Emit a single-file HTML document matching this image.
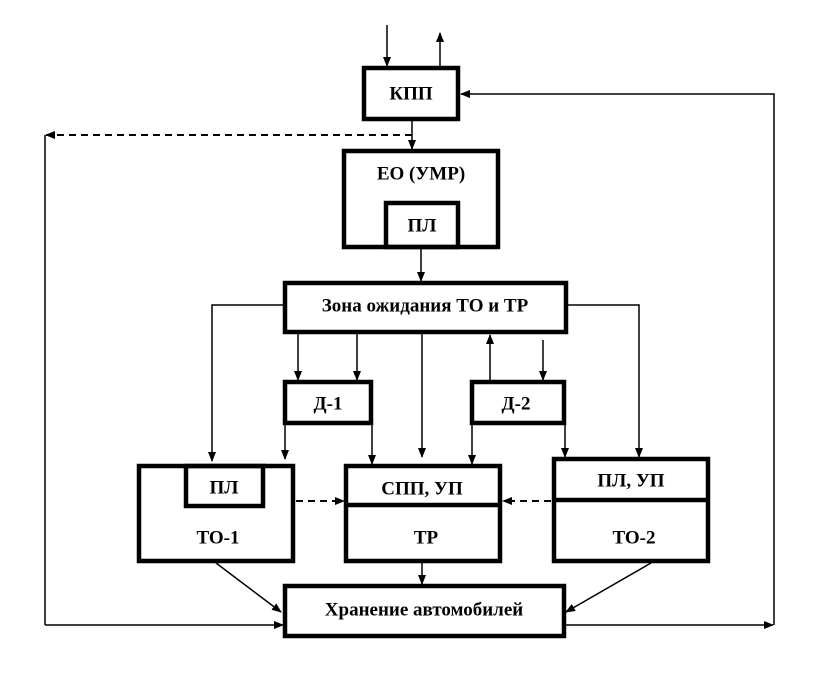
<!DOCTYPE html>
<html><head><meta charset="utf-8"><style>
html,body{margin:0;padding:0;background:#fff;}
svg{display:block}
text{font-family:"Liberation Serif",serif;font-weight:bold;font-size:19px;text-anchor:middle;dominant-baseline:central;fill:#000}
</style></head><body>
<svg width="818" height="673" viewBox="0 0 818 673" xmlns="http://www.w3.org/2000/svg">
<defs>
<marker id="a" markerWidth="10" markerHeight="10" refX="9" refY="5" orient="auto" markerUnits="userSpaceOnUse">
<path d="M0,1 L10,5 L0,9 Z" fill="#000"/></marker>
</defs>
<g fill="none" stroke="#000" stroke-width="1.5">
<line x1="387" y1="25" x2="387" y2="66" marker-end="url(#a)"/>
<line x1="440" y1="67" x2="440" y2="33" marker-end="url(#a)"/>
<polyline points="774,625 774,94 461,94" marker-end="url(#a)"/>
<line x1="412" y1="120" x2="412" y2="149" marker-end="url(#a)"/>
<line x1="412" y1="135" x2="46" y2="135" stroke-dasharray="7,5" stroke-width="2" marker-end="url(#a)"/>
<line x1="45" y1="135" x2="45" y2="625"/>
<line x1="421" y1="248" x2="421" y2="281" marker-end="url(#a)"/>
<polyline points="284,305 212,305 212,461" marker-end="url(#a)"/>
<polyline points="567,305 639,305 639,457" marker-end="url(#a)"/>
<line x1="298" y1="334" x2="298" y2="380" marker-end="url(#a)"/>
<line x1="357" y1="334" x2="357" y2="380" marker-end="url(#a)"/>
<line x1="422" y1="334" x2="422" y2="457" marker-end="url(#a)"/>
<line x1="490" y1="380" x2="490" y2="335" marker-end="url(#a)"/>
<line x1="543" y1="340" x2="543" y2="380" marker-end="url(#a)"/>
<line x1="285" y1="424" x2="285" y2="459" marker-end="url(#a)"/>
<line x1="372" y1="424" x2="372" y2="464" marker-end="url(#a)"/>
<line x1="472" y1="424" x2="472" y2="464" marker-end="url(#a)"/>
<line x1="565" y1="424" x2="565" y2="457" marker-end="url(#a)"/>
<line x1="296" y1="501" x2="344" y2="501" stroke-dasharray="7,5" stroke-width="2" marker-end="url(#a)"/>
<line x1="551" y1="501" x2="503" y2="501" stroke-dasharray="7,5" stroke-width="2" marker-end="url(#a)"/>
<line x1="216" y1="563" x2="281" y2="612" marker-end="url(#a)"/>
<line x1="422" y1="563" x2="422" y2="584" marker-end="url(#a)"/>
<line x1="651" y1="563" x2="566" y2="612" marker-end="url(#a)"/>
<line x1="45" y1="625" x2="283" y2="625" marker-end="url(#a)"/>
<line x1="566" y1="625" x2="773" y2="625" marker-end="url(#a)"/>
</g>
<g fill="none" stroke="#000" stroke-width="4.5">
<rect x="364" y="68" width="94" height="51"/>
<rect x="344" y="151" width="154" height="96"/>
<rect x="386" y="203" width="72" height="44"/>
<rect x="285" y="283" width="281" height="49"/>
<rect x="285" y="382" width="86" height="41"/>
<rect x="472" y="382" width="92" height="41"/>
<rect x="139" y="466" width="154" height="95"/>
<rect x="186" y="466" width="77" height="40"/>
<rect x="346" y="466" width="154" height="95"/>
<line x1="346" y1="505" x2="500" y2="505"/>
<rect x="554" y="459" width="154" height="102"/>
<line x1="554" y1="500" x2="708" y2="500"/>
<rect x="285" y="586" width="279" height="50"/>
</g>
<text x="411" y="94">КПП</text>
<text x="421" y="174">ЕО (УМР)</text>
<text x="422" y="226">ПЛ</text>
<text x="425" y="306">Зона ожидания ТО и ТР</text>
<text x="328" y="404">Д-1</text>
<text x="516" y="404">Д-2</text>
<text x="224" y="488">ПЛ</text>
<text x="218" y="538">ТО-1</text>
<text x="422" y="489">СПП, УП</text>
<text x="426" y="538">ТР</text>
<text x="631" y="481">ПЛ, УП</text>
<text x="634" y="538">ТО-2</text>
<text x="424" y="610">Хранение автомобилей</text>
</svg>
</body></html>
